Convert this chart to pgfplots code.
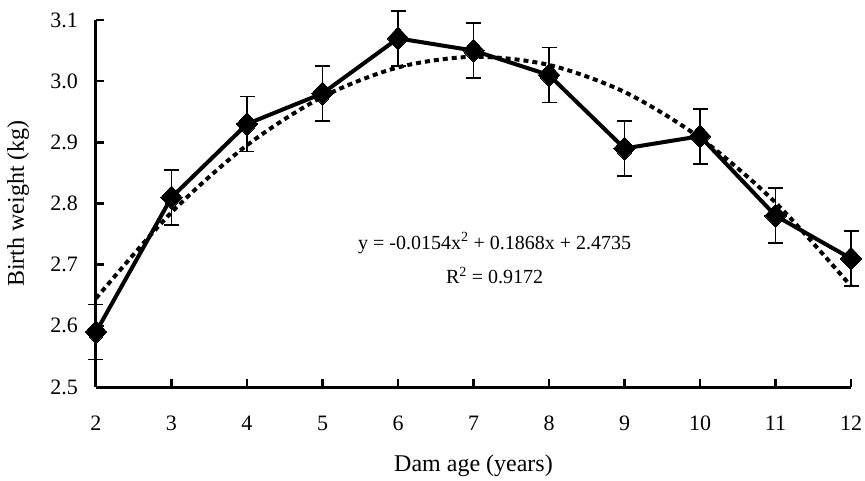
\documentclass[border=0pt]{standalone}
\usepackage{fontspec}
\setmainfont{Liberation Serif}
\usepackage{pgfplots}
\pgfplotsset{compat=1.18}

\begin{document}
\begin{tikzpicture}
% fixed frame so the page has the reference's 865 x 480 proportions
\path (-96pt,-93pt) rectangle (769pt,387pt);
\begin{axis}[
    at={(0,0)}, anchor=south west,
    scale only axis,
    width=755pt, height=367pt,
    xmin=2, xmax=12, ymin=2.5, ymax=3.1,
    xtick={2,...,12},
    ytick={2.5,2.6,...,3.1},
    y tick label style={/pgf/number format/fixed, /pgf/number format/fixed zerofill,
        /pgf/number format/precision=1},
    /pgf/number format/assume math mode=true,
    axis x line=bottom, axis y line=left,
    axis line style={-, line width=3pt},
    tick align=inside,
    major tick length=8pt,
    tick style={line width=2.5pt, black},
    ticklabel style={font=\fontsize{22}{26}\selectfont, inner sep=0pt},
    yticklabel style={anchor=east, xshift=-18pt},
    xticklabel style={anchor=north, yshift=-29pt},
    xlabel={Dam age (years)},
    ylabel={Birth weight (kg)},
    label style={font=\fontsize{24}{28}\selectfont},
    xlabel style={at={(axis description cs:0.5,-0.215)}, anchor=center},
    ylabel style={at={(axis description cs:-0.103,0.5)}, anchor=center},
    clip=false,
]
% polynomial trend line (values of the fitted curve at each age)
\addplot[black, smooth, line width=4pt, dash pattern=on 5pt off 4pt] coordinates {
    (2,2.6449) (3,2.7855) (4,2.8953) (5,2.9743) (6,3.0225) (7,3.0399)
    (8,3.0265) (9,2.9823) (10,2.9073) (11,2.8015) (12,2.6649)
};
% observed means with error bars
\addplot[black, line width=4pt, mark=diamond*, mark size=11.5pt,
    mark options={solid, line width=0pt, xscale=1.25},
    error bars/.cd, y dir=both, y explicit,
    error bar style={line width=1.8pt},
    error mark options={rotate=90, mark size=7.5pt, line width=1.8pt}]
coordinates {
    (2,2.59) +- (0,0.045)
    (3,2.81) +- (0,0.045)
    (4,2.93) +- (0,0.045)
    (5,2.98) +- (0,0.045)
    (6,3.07) +- (0,0.045)
    (7,3.05) +- (0,0.045)
    (8,3.01) +- (0,0.045)
    (9,2.89) +- (0,0.045)
    (10,2.91) +- (0,0.045)
    (11,2.78) +- (0,0.045)
    (12,2.71) +- (0,0.045)
};
\node[font=\fontsize{20}{24}\selectfont] at (axis cs:7.28,2.735)
    {y = -0.0154x\textsuperscript{2} + 0.1868x + 2.4735};
\node[font=\fontsize{20}{24}\selectfont] at (axis cs:7.28,2.682)
    {R\textsuperscript{2} = 0.9172};
\end{axis}
\end{tikzpicture}
\end{document}
